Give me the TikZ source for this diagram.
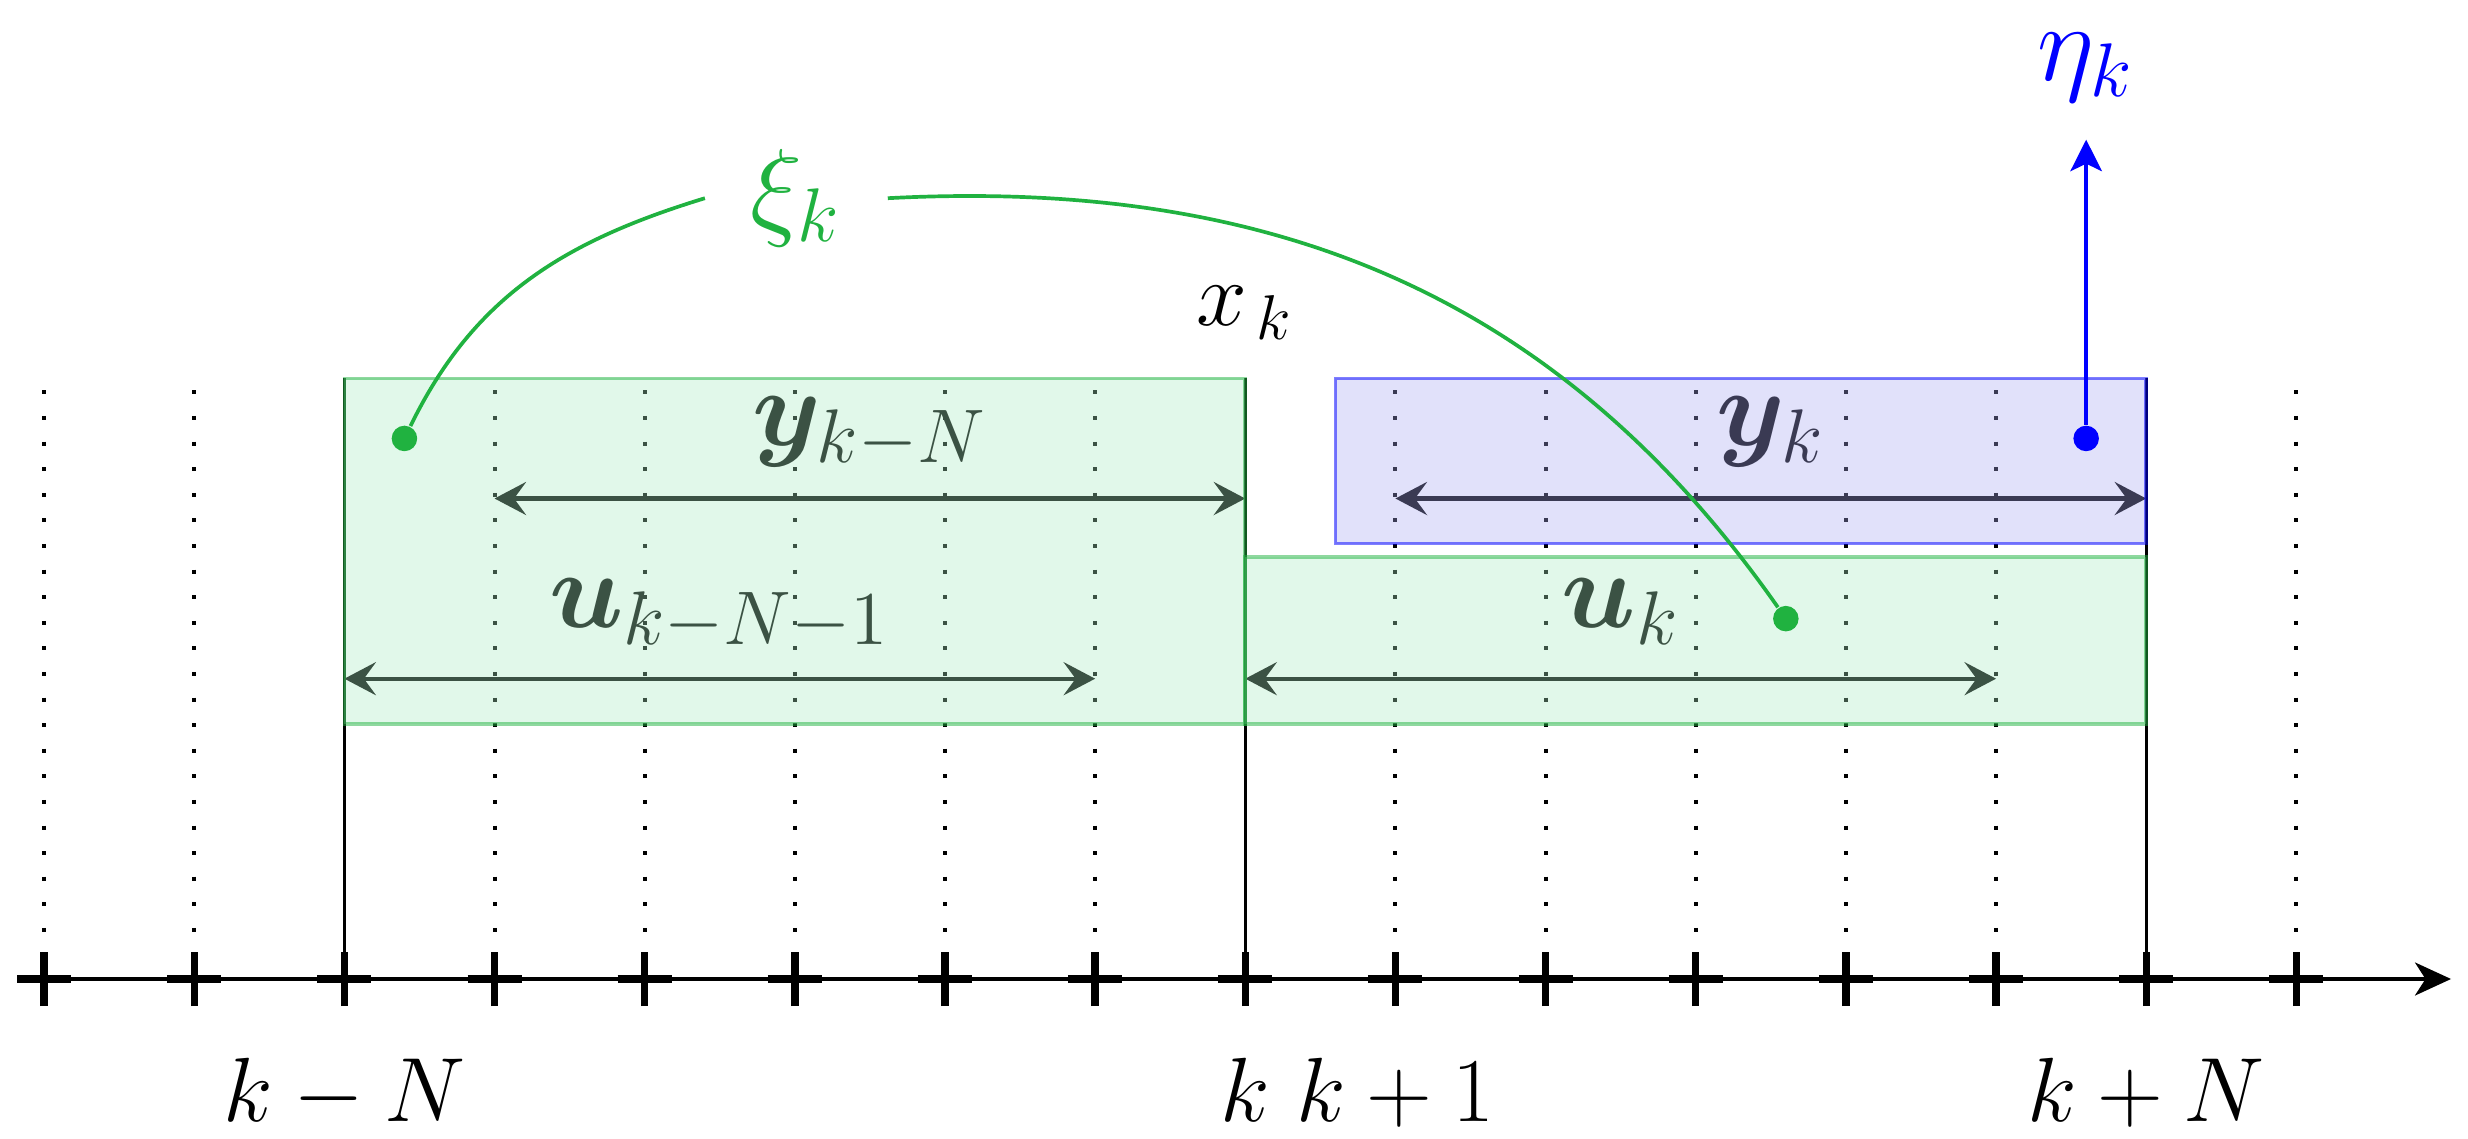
\documentclass[tikz,border=0pt]{standalone}
\usepackage{bm}
\usetikzlibrary{arrows.meta}
\definecolor{gcurve}{RGB}{32,178,64}
\definecolor{gfill}{rgb}{0.667,0.922,0.765}
\definecolor{bfill}{rgb}{0.66,0.66,0.94}
\tikzset{
  axisline/.style={line width=0.65pt, -{Stealth[length=0.24cm,width=0.22cm,inset=0.07cm]}},
  tickmark/.style={line width=1.4pt},
  dotline/.style={line width=0.77pt, dash pattern=on 0.77pt off 4.08pt},
  solidline/.style={line width=0.65pt},
  spanarrow/.style={line width=0.8pt, {Stealth[length=0.21cm,width=0.22cm,inset=0.08cm]}-{Stealth[length=0.21cm,width=0.22cm,inset=0.08cm]}},
  gbox/.style={fill=gfill, fill opacity=0.35, draw=gcurve, draw opacity=0.5, line width=0.7pt},
  bbox/.style={fill=bfill, fill opacity=0.35, draw=blue, draw opacity=0.5, line width=0.7pt},
  dotnode/.style={circle, fill, inner sep=0pt, minimum size=0.17cm},
  axlabel/.style={anchor=base, font=\LARGE},
  boxlabel/.style={anchor=base, font=\huge},
  curveline/.style={gcurve, line width=0.7pt},
  upline/.style={blue, line width=0.7pt, -{Stealth[length=0.21cm,width=0.21cm,inset=0.05cm]}}
}
\begin{document}
\begin{tikzpicture}
\useasboundingbox (-0.2935,-1.059) rectangle (16.143,6.520);
% dotted grid lines
\foreach \i in {0,1,3,4,5,6,7,9,10,11,12,13,15} {
  \draw[dotline] (\i,3.92) -- (\i,0.15);
}
% solid lines
\foreach \i in {2,8,14} {
  \draw[solidline] (\i,0) -- (\i,4.0);
}
% span arrows
\coordinate (ya) at (3,3.2); \coordinate (yb) at (8,3.2);
\coordinate (ua) at (2,2.0); \coordinate (ub) at (7,2.0);
\coordinate (yka) at (9,3.2); \coordinate (ykb) at (14,3.2);
\coordinate (uka) at (8,2.0); \coordinate (ukb) at (13,2.0);
\draw[spanarrow] (ya) -- (yb);
\draw[spanarrow] (ua) -- (ub);
\draw[spanarrow] (yka) -- (ykb);
\draw[spanarrow] (uka) -- (ukb);
% box labels
\node[boxlabel] (lykN) at (5.5,3.55) {$\bm{y}_{k-N}$};
\node[boxlabel] (lukN) at (4.5,2.34) {$\bm{u}_{k-N-1}$};
\node[boxlabel] (lyk) at (11.5,3.55) {$\bm{y}_{k}$};
\node[boxlabel] (luk) at (10.5,2.34) {$\bm{u}_{k}$};
% boxes
\draw[gbox] (2,1.7) rectangle (8,4.0);
\draw[gbox] (8,1.7) rectangle (14,2.81);
\draw[bbox] (8.6,2.9) rectangle (14,4.0);
% axis
\draw[axisline] (-0.17,0) -- (16.03,0);
\foreach \i in {0,...,15} {
  \draw[tickmark] (\i,-0.18) -- (\i,0.18);
  \draw[tickmark] (\i-0.18,0) -- (\i+0.18,0);
}
% axis labels
\node[axlabel] (tkN) at (2,-0.95) {$k-N$};
\node[axlabel] (tk) at (8,-0.95) {$k$};
\node[axlabel] (tk1) at (9,-0.95) {$k+1$};
\node[axlabel] (tkpN) at (14,-0.95) {$k+N$};
% x_k
\node[anchor=base, font=\fontsize{16}{19}\selectfont] (xk) at (8,4.35) {$x_{\,\mbox{\fontsize{12.2}{14}\selectfont$k$}}$};
% xi curve
\node[font=\huge, text=gcurve, inner xsep=0.30cm] (xi) at (5.01,5.2) {$\xi_k$};
\node[dotnode, fill=gcurve] (d1) at (2.4,3.6) {};
\node[dotnode, fill=gcurve] (d2) at (11.6,2.4) {};
\draw[curveline] (d1) to[out=64,in=197] (xi.west);
\draw[curveline] (xi.east) to[out=3,in=125] (d2);
% eta
\node[font=\huge, text=blue, anchor=base] (eta) at (13.6,5.985) {$\eta_k$};
\coordinate (etatip) at (13.6,5.59);
\node[dotnode, fill=blue] (d3) at (13.6,3.6) {};
\draw[upline] (d3) -- (etatip);
\end{tikzpicture}
\end{document}
